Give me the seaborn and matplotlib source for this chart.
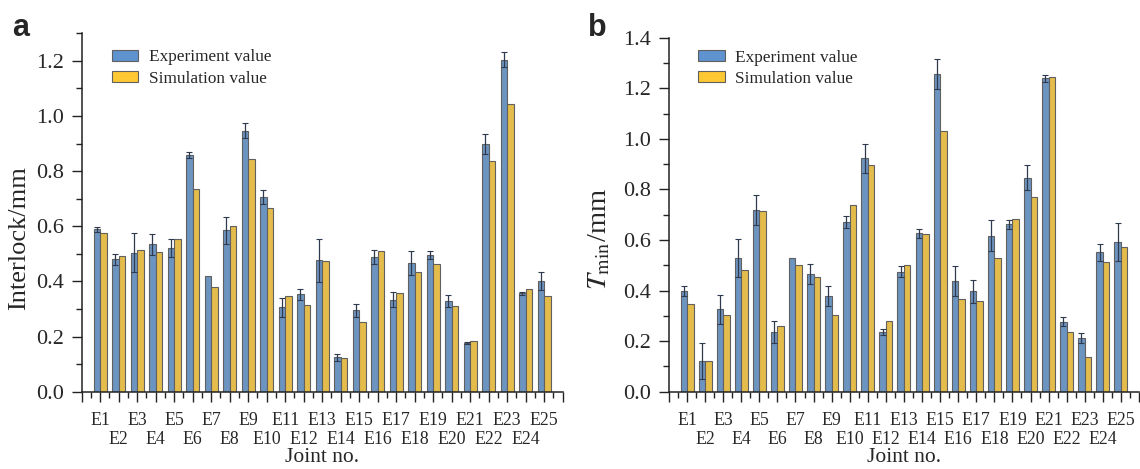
import numpy as np
import pandas as pd
import matplotlib
matplotlib.use("Agg")
import matplotlib.pyplot as plt
import seaborn as sns
from matplotlib.ticker import MultipleLocator, NullLocator, FormatStrFormatter
from matplotlib.patches import Patch

joints = [f"E{i}" for i in range(1, 26)]
series_names = ["Experiment value", "Simulation value"]

exp_a = [0.589, 0.481, 0.504, 0.534, 0.521, 0.858, 0.420, 0.586, 0.946, 0.705,
         0.306, 0.353, 0.476, 0.125, 0.295, 0.488, 0.334, 0.467, 0.496, 0.329,
         0.177, 0.899, 1.204, 0.357, 0.401]
sim_a = [0.574, 0.494, 0.515, 0.505, 0.553, 0.734, 0.378, 0.602, 0.845, 0.666,
         0.346, 0.313, 0.473, 0.123, 0.253, 0.509, 0.359, 0.436, 0.462, 0.311,
         0.184, 0.835, 1.044, 0.373, 0.347]
err_a = [0.010, 0.020, 0.070, 0.037, 0.034, 0.012, 0.0, 0.049, 0.027, 0.025,
         0.035, 0.019, 0.078, 0.013, 0.023, 0.025, 0.026, 0.044, 0.015, 0.021,
         0.005, 0.037, 0.028, 0.005, 0.033]

exp_b = [0.397, 0.121, 0.326, 0.527, 0.718, 0.237, 0.527, 0.465, 0.378, 0.670,
         0.923, 0.237, 0.475, 0.627, 1.256, 0.437, 0.397, 0.617, 0.662, 0.847,
         1.240, 0.277, 0.214, 0.552, 0.593]
sim_b = [0.346, 0.123, 0.303, 0.482, 0.715, 0.260, 0.501, 0.455, 0.303, 0.737,
         0.898, 0.281, 0.500, 0.623, 1.033, 0.366, 0.357, 0.528, 0.683, 0.771,
         1.243, 0.237, 0.139, 0.511, 0.573]
err_b = [0.020, 0.072, 0.058, 0.075, 0.059, 0.044, 0.0, 0.040, 0.039, 0.024,
         0.058, 0.012, 0.021, 0.018, 0.058, 0.059, 0.045, 0.061, 0.017, 0.048,
         0.014, 0.018, 0.020, 0.034, 0.076]

BLUE = "#5e93cf"
YELLOW = "#fec832"
EDGE = "#606060"
ERRC = "#2f3a4f"
AXC = "#222222"

sns.set_theme(style="ticks")
plt.rcParams["font.family"] = ["Liberation Serif", "DejaVu Serif"]
plt.rcParams["mathtext.fontset"] = "stix"

fig = plt.figure(figsize=(11.4, 4.69), dpi=100)
ax_a = fig.add_axes([0.0717, 0.1648, 0.4219, 0.7642])
ax_b = fig.add_axes([0.5868, 0.1648, 0.4123, 0.7548])


def draw(ax, exp, sim, err, ylim, ylabel, ylab_size, ylab_x, letter,
         letter_x, leg_y):
    df = pd.DataFrame({
        "joint": joints * 2,
        "series": [series_names[0]] * 25 + [series_names[1]] * 25,
        "value": list(exp) + list(sim),
    })
    sns.barplot(data=df, x="joint", y="value", hue="series", order=joints,
                hue_order=series_names, palette=[BLUE, YELLOW], width=0.72,
                errorbar=None, edgecolor=EDGE, linewidth=0.8, ax=ax,
                legend=False)
    exp_bars = ax.containers[0]
    xs, ys, es = [], [], []
    for p, e in zip(exp_bars.patches, err):
        if e > 0:
            xs.append(p.get_x() + p.get_width() / 2)
            ys.append(p.get_height())
            es.append(e)
    ax.errorbar(xs, ys, yerr=es, fmt="none", ecolor=ERRC, elinewidth=0.9,
                capsize=2.4, capthick=0.8, zorder=5)

    ax.set_xlim(-1, 25)
    ax.set_ylim(*ylim)
    # main ticks at every integer, odd-numbered joints labelled on first row
    ax.set_xticks(range(-1, 26))
    labels = [""]
    for i, j in enumerate(joints):
        labels.append(j if i % 2 == 0 else "")
    labels.append("")
    ax.set_xticklabels(labels)
    ax.xaxis.set_minor_locator(MultipleLocator(0.5))
    ax.yaxis.set_major_locator(MultipleLocator(0.2))
    ax.yaxis.set_minor_locator(MultipleLocator(0.1))
    ax.yaxis.set_major_formatter(FormatStrFormatter("%.1f"))
    ax.tick_params(axis="both", which="major", direction="out", length=7,
                   width=1.0, color=AXC, labelsize=16, pad=6)
    ax.tick_params(axis="both", which="minor", direction="out", length=4.5,
                   width=1.0, color=AXC)
    ax.tick_params(axis="x", which="major", labelsize=12.8, pad=7.5)
    for s in ["top", "right"]:
        ax.spines[s].set_visible(False)
    for s in ["left", "bottom"]:
        ax.spines[s].set_linewidth(1.1)
        ax.spines[s].set_color(AXC)
    ax.set_xlabel("")

    # second row of tick labels (even-numbered joints)
    sec = ax.secondary_xaxis("bottom")
    even_pos = [i for i in range(25) if i % 2 == 1]
    sec.set_xticks(even_pos)
    sec.set_xticklabels([joints[i] for i in even_pos], fontsize=12.8)
    sec.xaxis.set_minor_locator(NullLocator())
    sec.tick_params(axis="x", which="major", length=0, pad=28.5)
    sec.spines["bottom"].set_visible(False)
    sec.set_xlabel("Joint no.", fontsize=15.5, labelpad=0)

    ax.set_ylabel(ylabel, fontsize=ylab_size)
    ax.yaxis.set_label_coords(ylab_x, 0.43)
    handles = [Patch(facecolor=BLUE, edgecolor=EDGE, linewidth=0.8),
               Patch(facecolor=YELLOW, edgecolor=EDGE, linewidth=0.8)]
    ax.legend(handles, series_names, loc="upper left",
              bbox_to_anchor=(0.062, leg_y), frameon=False, fontsize=12.4,
              borderpad=0, borderaxespad=0,
              handlelength=1.55, handleheight=0.6, handletextpad=0.6,
              labelspacing=0.3)
    fig.text(letter_x, 0.94, letter, fontsize=22, fontweight="bold",
             family="Liberation Sans", ha="left", va="center")


draw(ax_a, exp_a, sim_a, err_a, (0, 1.3), "Interlock/mm", 19, -0.108,
     "a", 0.011, 0.955)
draw(ax_b, exp_b, sim_b, err_b, (0, 1.4), r"$\mathit{T}_{\mathrm{min}}$/mm",
     20.5, -0.121, "b", 0.516, 0.966)

fig.savefig("out.png", dpi=100)
